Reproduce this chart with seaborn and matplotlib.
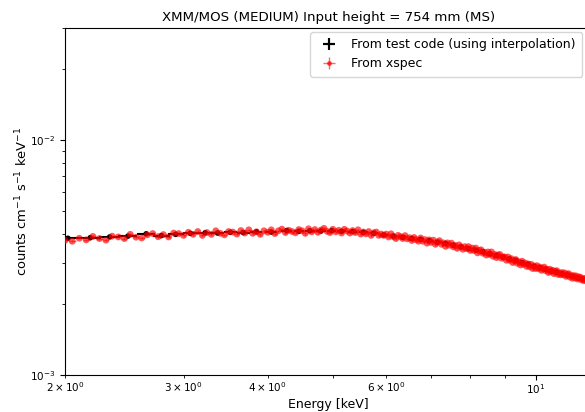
import numpy as np
import pandas as pd
import matplotlib
matplotlib.use("Agg")
import matplotlib.pyplot as plt
import seaborn as sns

# ---- data ----
title = "XMM/MOS (MEDIUM) Input height = 754 mm (MS)"
xlabel = "Energy [keV]"
ylabel = r"counts cm$^{-1}$ s$^{-1}$ keV$^{-1}$"
label_test = "From test code (using interpolation)"
label_xspec = "From xspec"

# test code (black), energies [keV] and rates [1e-3 counts ...]
test_energy = [2.02, 2.18, 2.33, 2.48, 2.64, 2.78, 2.92, 3.07, 3.23, 3.37, 3.52, 3.68,
               3.85, 4.05, 4.27, 4.45, 4.62, 4.80, 4.98, 5.15, 5.35, 5.55, 5.75, 5.95,
               6.15, 6.35, 6.55, 6.75, 6.95, 7.15, 7.35, 7.55, 7.75, 7.95, 8.15, 8.35,
               8.55, 8.75, 8.95, 9.15, 9.35, 9.55, 9.75, 9.95, 10.15, 10.35, 10.55, 10.75,
               10.95, 11.15, 11.35, 11.55, 11.75, 11.95]
test_rate = [3.82, 3.84, 3.87, 3.90, 3.99, 3.92, 3.97, 4.01, 4.03, 4.02, 4.05, 4.04,
             4.07, 4.06, 4.12, 4.09, 4.11, 4.10, 4.12, 4.09, 4.08, 4.05, 4.01, 3.95,
             3.90, 3.86, 3.81, 3.78, 3.73, 3.67, 3.63, 3.57, 3.51, 3.45, 3.40, 3.35,
             3.28, 3.23, 3.17, 3.12, 3.07, 3.01, 2.96, 2.90, 2.86, 2.82, 2.78, 2.74,
             2.70, 2.66, 2.63, 2.59, 2.56, 2.53]

# xspec (red): channel grid start / step [keV] and rates [1e-3 counts ...]
xspec_start, xspec_step = 2.0, 0.05
xspec_rate = [
    3.74, 3.71, 3.82, 3.76, 3.89, 3.81, 3.75, 3.90, 3.87, 3.81, 3.97, 3.86, 3.83, 3.95, 4.00, 3.88, 3.96, 3.87, 4.02, 4.00,
    3.93, 4.05, 3.97, 4.08, 3.93, 4.04, 3.97, 4.11, 4.01, 3.95, 4.08, 4.06, 3.98, 4.12, 4.02, 4.15, 4.01, 4.07, 3.97, 4.11,
    4.05, 4.15, 4.00, 4.11, 4.18, 4.04, 4.13, 4.08, 4.03, 4.16, 4.11, 4.01, 4.19, 4.07, 4.16, 4.05, 4.14, 4.21, 4.09, 4.04,
    4.17, 4.07, 4.13, 4.02, 4.17, 4.10, 4.02, 4.12, 4.04, 4.15, 3.98, 4.06, 3.99, 4.08, 3.93, 4.03, 4.06, 3.93, 3.98, 3.93,
    3.98, 3.87, 3.99, 3.88, 3.81, 3.93, 3.88, 3.81, 3.92, 3.80, 3.84, 3.74, 3.85, 3.77, 3.71, 3.83, 3.71, 3.77, 3.64, 3.76,
    3.67, 3.75, 3.60, 3.68, 3.73, 3.60, 3.65, 3.53, 3.65, 3.57, 3.64, 3.51, 3.56, 3.46, 3.58, 3.51, 3.43, 3.52, 3.45, 3.52,
    3.39, 3.47, 3.39, 3.47, 3.31, 3.39, 3.41, 3.30, 3.33, 3.24, 3.34, 3.26, 3.34, 3.20, 3.26, 3.16, 3.24, 3.26, 3.14, 3.18,
    3.18, 3.08, 3.18, 3.08, 3.13, 3.01, 3.08, 3.10, 2.99, 3.03, 2.94, 3.05, 2.96, 3.00, 2.90, 2.97, 2.89, 2.96, 2.84, 2.91,
    2.84, 2.92, 2.84, 2.88, 2.79, 2.84, 2.88, 2.78, 2.82, 2.73, 2.82, 2.76, 2.79, 2.70, 2.76, 2.78, 2.68, 2.72, 2.67, 2.73,
    2.67, 2.72, 2.63, 2.68, 2.70, 2.61, 2.65, 2.58, 2.65, 2.59, 2.64, 2.56, 2.61, 2.61, 2.54, 2.57, 2.52, 2.58, 2.52, 2.54,
    2.51,
]

unit = 1e-3
test_xerr = 0.08     # half bin width
rel_yerr = 0.012     # relative error bar

# ---- build tables ----
df_test = pd.DataFrame({"energy": test_energy, "rate": np.array(test_rate) * unit})
xspec_energy = np.round(xspec_start + xspec_step * np.arange(len(xspec_rate)), 3)
df_xspec = pd.DataFrame({"energy": xspec_energy, "rate": np.array(xspec_rate) * unit})

# ---- figure ----
fig = plt.figure(figsize=(5.85, 4.12), dpi=100)
ax = fig.add_axes([65 / 585, 1 - 375 / 412, 527 / 585, (375 - 28) / 412])

# black: test code
ax.errorbar(df_test["energy"], df_test["rate"], xerr=test_xerr,
            yerr=df_test["rate"] * rel_yerr, fmt="none", ecolor="black",
            elinewidth=1.5, zorder=2)
sns.scatterplot(data=df_test, x="energy", y="rate", ax=ax, color="black",
                s=16, edgecolor="none", zorder=3, legend=False)

# red: xspec
ax.errorbar(df_xspec["energy"], df_xspec["rate"], xerr=xspec_step / 2,
            yerr=df_xspec["rate"] * rel_yerr, fmt="none", ecolor="red",
            elinewidth=1.0, alpha=0.5, zorder=4)
sns.scatterplot(data=df_xspec, x="energy", y="rate", ax=ax, color="red",
                s=24, alpha=0.65, edgecolor="none", zorder=5, legend=False)

ax.set_xscale("log")
ax.set_yscale("log")
ax.set_xlim(2.0, 12.13)
ax.set_ylim(1e-3, 3e-2)

ax.set_title(title, fontsize=9.6, pad=5)
ax.set_xlabel(xlabel, fontsize=9, labelpad=1)
ax.set_ylabel(ylabel, fontsize=9.4, labelpad=0)
ax.tick_params(which="both", labelsize=7.5)
ax.tick_params(axis="x", which="both", pad=2)

# legend proxies
h1 = ax.errorbar([], [], xerr=[], yerr=[], fmt="+", color="black", ms=8, mew=1.5,
                 elinewidth=1.5)
h2 = ax.errorbar([], [], xerr=[], yerr=[], fmt=".", color="red", alpha=0.6, ms=5,
                 elinewidth=1.0)
fig.legend([h1, h2], [label_test, label_xspec], loc="upper right",
           bbox_to_anchor=(582 / 585, 1 - 32 / 412), borderaxespad=0,
           fontsize=9, framealpha=0.8, borderpad=0.5, labelspacing=0.5)

fig.savefig("out.png", dpi=100)
